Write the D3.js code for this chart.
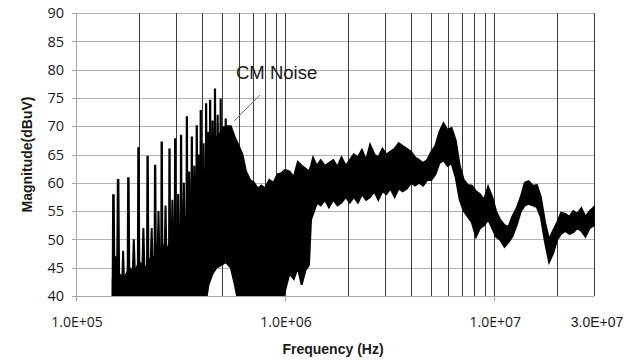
<!DOCTYPE html>
<html>
<head>
<meta charset="utf-8">
<script src="https://cdn.jsdelivr.net/npm/d3@7"></script>
<style>
  html, body { margin: 0; padding: 0; background: #fff; }
  svg { display: block; }
</style>
</head>
<body>
<svg id="chart" width="633" height="362"></svg>
<script>
// ---------- data ----------
const yTicks = [40, 45, 50, 55, 60, 65, 70, 75, 80, 85, 90];
const xTickValues = [1e5, 1e6, 1e7];
const xTickLabels = ["1.0E+05", "1.0E+06", "1.0E+07"];
const xEndValue = 3e7;
const xEndLabel = "3.0E+07";

// dense noise band (kHz, upper and lower envelope in dBuV)
const bandFreqKHz = [150,160,170,180,190,200,215,230,245,260,275,290,310,330,350,370,390,410,430,450,470,495,520,
  550,575,600,625,650,680,710,740,770,800,
  840,880,920,960,1000,1050,1100,1150,1200,1250,
  1300,1330,1360,1420,1480,1550,1620,1700,1780,1860,1950,
  2040,2130,2230,2330,2440,2550,2670,2790,2920,3050,
  3190,3340,3490,3650,3820,4000,4180,4370,4570,4780,
  5000,5230,5470,5720,5980,6250,6540,6840,7150,7480,
  7820,8180,8550,8940,9350,9780,10200,10700,11200,11700,
  12200,12800,13400,14000,14600,15300,16000,16700,17500,18300,
  19100,20000,20900,21900,22900,23900,25000,26100,27300,28600,
  30000];
const bandUpper = [43,44,43,45,44,46,45,47,46.5,49,48.5,51,52,53.5,55,57,58,61,64,66,68,69,70,
  70,68,66.5,65,62,60.5,60,59,59.5,59,
  60.5,60,61.5,61.7,62.3,62,61,63.7,63,62.5,
  62,63,64.4,63,64,63,63.5,64,62.8,64.5,63,
  64,65,64.5,65.8,64,66.7,65,64.5,66,65,
  65.5,66,67,66.5,66,65.5,64.5,64,63.5,64,
  65.5,66.5,69,70.5,69.3,69.7,67.5,63,60.5,59.6,
  59.5,58.5,58,57,59.3,57.5,55,53.4,52.5,52.2,
  54,55.5,57.5,60,60.3,59.5,59.6,57.5,53,50,
  51.5,53,54.7,54.5,54,55,54.5,55.5,54,55,
  55.7];
const bandLower = [37,37,37,37,37,37,37,37,37,37,37,37,37,37,37,37,37,37,42,44,45,45.5,46,
  45,42,38.5,38,38,38,37,37,37,38,
  38,38,38,38.5,41,44,43,45,42,44.5,
  45.5,53.5,54.5,56.5,56,57,55.7,57,56,56.5,57.5,
  56.5,57.5,56.5,58,57,57.5,58.5,57,58.5,58,
  59,57.5,59,58.5,59,60,59.5,60,59.5,60.5,
  60.5,61.5,63.5,64,63,63.5,61,57,55,54,
  53,50.5,52,52.5,53.5,52,50.5,49.9,48.7,49.5,
  50.5,52.5,55,56,56.3,56,55.7,54,49.5,46,
  47.5,50,51,51.5,51,51.3,52,51.5,50.5,52,
  52.5];

// spikes of the low-frequency comb (kHz, dBuV)
const spikeFreqKHz = [149.5,150.5,151.5,153,155,157,158.5,159.5,161,
  166,168,170, 176.5,177.5,178.5,180, 186,189,192, 197.5,198.5,199.5,201,
  207,210,213, 218.5,219.5,220.5,222, 227,230,233, 237.5,238.5,239.5,241,
  245,248,251, 255.5,256.5,257.5,259, 265,268,271, 278.5,279.5,280.5,282,
  286,289,292, 296.5,297.5,298.5,300, 305,308,311, 316.5,317.5,318.5,320,
  325,328,331, 337.5,338.5,339.5,341, 345,348,351, 356.5,357.5,358.5,360,
  365,368,371, 376.5,377.5,378.5,380, 383,386,389, 393.5,394.5,395.5,397,
  404,407,410, 417.5,418.5,419.5,421, 425,428,431, 436.5,437.5,438.5,440,
  447,450,453, 460.5,461.5,462.5,464, 473,476,479, 490,491.5,492.5,494,
  503,506,509, 518,519.5,520.5,522, 530,533,536, 543,545,547,
  568,571,574, 596,600,604, 625,630,635];
const spikeMag = [38,57.8,57.8,40,47,40,60.5,60.5,40,
  41,48,41, 41,60.8,60.8,41, 42,50,42, 42,66.1,66.1,42,
  43,52,43, 43,64.6,64.6,43, 44,52,44, 44,63.0,63.0,44,
  45,55,45, 45,67.1,67.1,45, 46,56,46, 46,65.9,65.9,46,
  47,57,47, 47,67.7,67.7,47, 48,58,48, 48,68.3,68.3,48,
  50,60,50, 50,71.6,71.6,50, 52,62,52, 52,68.0,68.0,52,
  54,63,54, 54,70.0,70.0,54, 56,65,56, 56,72.7,72.7,56,
  58,67,58, 58,73.9,73.9,58, 60,69,60, 60,74.5,74.5,60,
  62,71,62, 62,76.5,76.5,62, 63,72,63, 63,74.7,74.7,63,
  63,70,63, 63,71.2,71.2,63, 63,69,63, 63,70,63,
  62,67.5,62, 60,65.5,60, 58,63,58];

const annotation = "CM Noise";
const xTitle = "Frequency (Hz)";
const yTitle = "Magnitude(dBuV)";

// ---------- layout ----------
const L = 76, R = 594, T = 13, B = 296;
const svg = d3.select("#chart");
const x = d3.scaleLog().domain([1e5, 3e7]).range([L, R]);
const y = d3.scaleLinear().domain([40, 90]).range([B, T]);
const px = v => Math.round(v) + 0.5;

// horizontal gridlines
svg.append("g").selectAll("line").data(yTicks.filter(d => d > 40)).join("line")
  .attr("x1", L).attr("x2", R)
  .attr("y1", d => px(y(d))).attr("y2", d => px(y(d)))
  .attr("stroke", "#b3b3b3").attr("stroke-width", 1);

// vertical gridlines (log minor)
svg.append("g").selectAll("line").data(x.ticks().filter(d => d > 1e5 * 1.01)).join("line")
  .attr("x1", d => px(x(d))).attr("x2", d => px(x(d)))
  .attr("y1", T).attr("y2", B)
  .attr("stroke", "#3c3c3c").attr("stroke-width", 1);

// axes lines
svg.append("line").attr("x1", px(L)).attr("x2", px(L)).attr("y1", T).attr("y2", B + 5)
  .attr("stroke", "#a6a6a6");
svg.append("line").attr("x1", L - 4).attr("x2", R).attr("y1", px(B)).attr("y2", px(B))
  .attr("stroke", "#a6a6a6");
svg.append("g").selectAll("line").data(yTicks).join("line")
  .attr("x1", L - 4).attr("x2", L).attr("y1", d => px(y(d))).attr("y2", d => px(y(d)))
  .attr("stroke", "#a6a6a6");
svg.append("g").selectAll("line").data(xTickValues.slice(1)).join("line")
  .attr("x1", d => px(x(d))).attr("x2", d => px(x(d))).attr("y1", B).attr("y2", B + 5)
  .attr("stroke", "#a6a6a6");

// clip
svg.append("clipPath").attr("id", "plotclip").append("rect")
  .attr("x", L + 1).attr("y", T).attr("width", R - L).attr("height", B - T);

const plot = svg.append("g").attr("clip-path", "url(#plotclip)");

const bandData = bandFreqKHz.map((f, i) => ({ f: f * 1e3, u: bandUpper[i], l: bandLower[i] }));
const area = d3.area().x(d => x(d.f)).y0(d => y(d.l)).y1(d => y(d.u));
plot.append("path").datum(bandData).attr("d", area)
  .attr("fill", "#000").attr("stroke", "#000").attr("stroke-width", 2).attr("stroke-linejoin", "miter");

const spikeData = spikeFreqKHz.map((f, i) => ({ f: f * 1e3, v: spikeMag[i] }));
const line = d3.line().x(d => x(d.f)).y(d => y(d.v));
plot.append("path").datum(spikeData).attr("d", line)
  .attr("fill", "none").attr("stroke", "#000").attr("stroke-width", 2).attr("stroke-linejoin", "miter");

// tick labels
svg.append("g").selectAll("text").data(yTicks).join("text")
  .attr("x", 64).attr("y", d => y(d)).attr("dy", "0.36em")
  .attr("text-anchor", "end")
  .attr("font-family", "'Open Sans', sans-serif").attr("font-size", 14.5).attr("fill", "#1a1a1a")
  .text(d => d);

svg.append("g").selectAll("text").data(xTickValues).join("text")
  .attr("x", d => x(d) + 1).attr("y", 327)
  .attr("text-anchor", "middle")
  .attr("font-family", "'Open Sans', sans-serif").attr("font-size", 14).attr("fill", "#1a1a1a")
  .text((d, i) => xTickLabels[i]);

svg.append("text").attr("x", x(xEndValue) + 3).attr("y", 327)
  .attr("text-anchor", "middle")
  .attr("font-family", "'Liberation Sans', Arial, sans-serif").attr("font-size", 14).attr("fill", "#1a1a1a")
  .text(xEndLabel);

// titles
svg.append("text").attr("x", (L + R) / 2 - 2).attr("y", 354)
  .attr("text-anchor", "middle")
  .attr("font-family", "'Liberation Sans', Arial, sans-serif").attr("font-weight", "bold").attr("font-size", 14).attr("fill", "#1a1a1a")
  .text(xTitle);

svg.append("text").attr("transform", `translate(32,${(T + B) / 2}) rotate(-90)`)
  .attr("text-anchor", "middle")
  .attr("font-family", "'Liberation Sans', Arial, sans-serif").attr("font-weight", "bold").attr("font-size", 14).attr("fill", "#1a1a1a")
  .text(yTitle);

// annotation
svg.append("line").attr("x1", 260).attr("y1", 95).attr("x2", 234).attr("y2", 121)
  .attr("stroke", "#777").attr("stroke-width", 1);
svg.append("text").attr("x", 236).attr("y", 78.5)
  .attr("font-family", "'Liberation Sans', Arial, sans-serif").attr("font-size", 18.5).attr("fill", "#1a1a1a")
  .text(annotation);
</script>
</body>
</html>
